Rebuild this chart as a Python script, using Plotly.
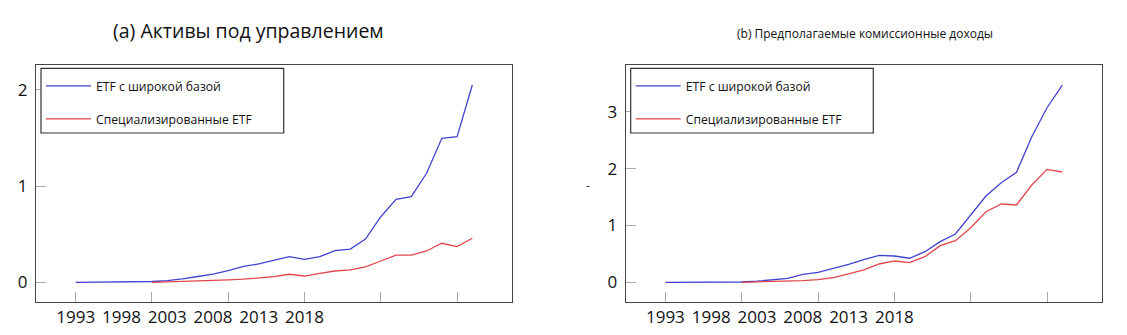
import plotly.graph_objects as go

# Position index 0..26 along the x axis; labelled years and tick marks
idx = list(range(27))
year_labels = ["1993", "1998", "2003", "2008", "2013", "2018"]
label_pos = [0, 3, 6, 9, 12, 15]
tick_pos = [0, 5, 10, 15, 20, 25]

# (a) Assets under management
aum_broad = [0.0, 0.0005, 0.001, 0.002, 0.004, 0.008, 0.018, 0.035, 0.06, 0.085,
             0.12, 0.165, 0.19, 0.225, 0.266, 0.239, 0.266, 0.328, 0.345, 0.449,
             0.681, 0.862, 0.889, 1.132, 1.495, 1.512, 2.049]
aum_thematic = [None, None, None, None, None, 0.0, 0.004, 0.008, 0.012, 0.018,
                0.025, 0.032, 0.042, 0.058, 0.083, 0.065, 0.093, 0.117, 0.128, 0.159,
                0.221, 0.283, 0.283, 0.325, 0.405, 0.370, 0.457]

# (b) Estimated fee revenue
fee_broad = [0.0, 0.0005, 0.001, 0.002, 0.003, 0.005, 0.018, 0.04, 0.07, 0.14,
             0.176, 0.246, 0.315, 0.400, 0.475, 0.463, 0.423, 0.539, 0.715, 0.850,
             1.185, 1.519, 1.754, 1.937, 2.563, 3.074, 3.474]
fee_thematic = [None, None, None, None, None, 0.0, 0.005, 0.01, 0.018, 0.03,
                0.047, 0.082, 0.15, 0.22, 0.322, 0.375, 0.345, 0.451, 0.644, 0.732,
                0.961, 1.243, 1.379, 1.361, 1.713, 1.989, 1.942]

names = ["ETF с широкой базой", "Специализированные ETF"]
BLUE = "#4343d0"
RED = "#e2464c"
FONT = "Open Sans"
W, H = 1127, 335


def padded(vals):
    v = [x for x in vals if x is not None]
    lo, hi = min(v), max(v)
    span = hi - lo
    return [lo - 0.1 * span, hi + 0.1 * span]


fig = go.Figure()

panels = [
    ("x", "y", "legend", aum_broad, aum_thematic),
    ("x2", "y2", "legend2", fee_broad, fee_thematic),
]
for xa, ya, lg, broad, thematic in panels:
    fig.add_trace(go.Scatter(x=idx, y=broad, mode="lines", name=names[0],
                             line=dict(color=BLUE, width=1.3), xaxis=xa, yaxis=ya,
                             legend=lg, legendgroup=lg + "a"))
    fig.add_trace(go.Scatter(x=idx, y=thematic, mode="lines", name=names[1],
                             line=dict(color=RED, width=1.3), xaxis=xa, yaxis=ya,
                             legend=lg, legendgroup=lg + "b"))

# empty traces so the year-label axes are drawn
for xa, ya in (("x3", "y"), ("x4", "y2")):
    fig.add_trace(go.Scatter(x=label_pos, y=[None] * len(label_pos), mode="lines",
                             xaxis=xa, yaxis=ya, showlegend=False, hoverinfo="skip"))

xrange = padded(idx)
ydom = [(H - 302) / H, (H - 65.3) / H]
xdoms = [[36 / W, 512 / W], [625.7 / W, 1102 / W]]

frame = dict(showline=True, linecolor="#444", linewidth=1.2, mirror=True,
             showgrid=False, zeroline=False)

common_x = dict(frame, range=xrange, tickmode="array", tickvals=tick_pos,
                showticklabels=False, ticks="inside", ticklen=10,
                tickcolor="#aaa", tickwidth=1)
label_x = dict(range=xrange, tickmode="array", tickvals=label_pos,
               ticktext=year_labels, ticks="", showline=False, showgrid=False,
               zeroline=False, side="bottom",
               tickfont=dict(family=FONT, size=17, color="#111"),
               ticklabelstandoff=3)

legend_common = dict(y=(H - 71.3) / H, xanchor="left", yanchor="top",
                     borderwidth=0, bgcolor="rgba(0,0,0,0)",
                     font=dict(family=FONT, size=12.2, color="#111"),
                     traceorder="grouped", tracegroupgap=14, itemwidth=45)

# framed boxes behind the two legends
legend_boxes = [(41, 283.7), (630.7, 873.3)]
shapes = [
    dict(type="rect", xref="paper", yref="paper", layer="above",
         x0=x0 / W, x1=x1 / W, y0=(H - 133) / H, y1=(H - 68.3) / H,
         line=dict(color="#333", width=1.2), fillcolor="white")
    for x0, x1 in legend_boxes
]

fig.update_layout(
    xaxis=dict(common_x, domain=xdoms[0], anchor="y"),
    xaxis2=dict(common_x, domain=xdoms[1], anchor="y2"),
    xaxis3=dict(label_x, overlaying="x", anchor="y"),
    xaxis4=dict(label_x, overlaying="x2", anchor="y2"),
    yaxis=dict(frame, domain=ydom, anchor="x", range=padded(aum_broad),
               tickmode="array", tickvals=[0, 1, 2], ticks="inside", ticklen=10,
               tickcolor="#aaa", tickfont=dict(family=FONT, size=17, color="#111"),
               ticklabelstandoff=4),
    yaxis2=dict(frame, domain=ydom, anchor="x2", range=padded(fee_broad),
                tickmode="array", tickvals=[0, 1, 2, 3], ticks="inside", ticklen=10,
                tickcolor="#aaa", tickfont=dict(family=FONT, size=17, color="#111"),
                ticklabelstandoff=4),
    legend=dict(legend_common, x=41 / W),
    legend2=dict(legend_common, x=630.7 / W),
    shapes=shapes,
    width=W, height=H,
    margin=dict(l=0, r=0, t=0, b=0),
    paper_bgcolor="white", plot_bgcolor="white",
    annotations=[
        dict(text="(a) Активы под управлением", x=248 / W, y=(H - 31) / H,
             xref="paper", yref="paper", xanchor="center", yanchor="middle",
             showarrow=False, font=dict(family=FONT, size=19.5, color="#111")),
        dict(text="(b) Предполагаемые комиссионные доходы", x=865 / W, y=(H - 33) / H,
             xref="paper", yref="paper", xanchor="center", yanchor="middle",
             showarrow=False, font=dict(family=FONT, size=12, color="#111")),
        dict(text="-", x=588 / W, y=(H - 185) / H, xref="paper", yref="paper",
             xanchor="center", yanchor="middle",
             showarrow=False, font=dict(family=FONT, size=12, color="#333")),
    ],
)

fig.write_html("out.html")
